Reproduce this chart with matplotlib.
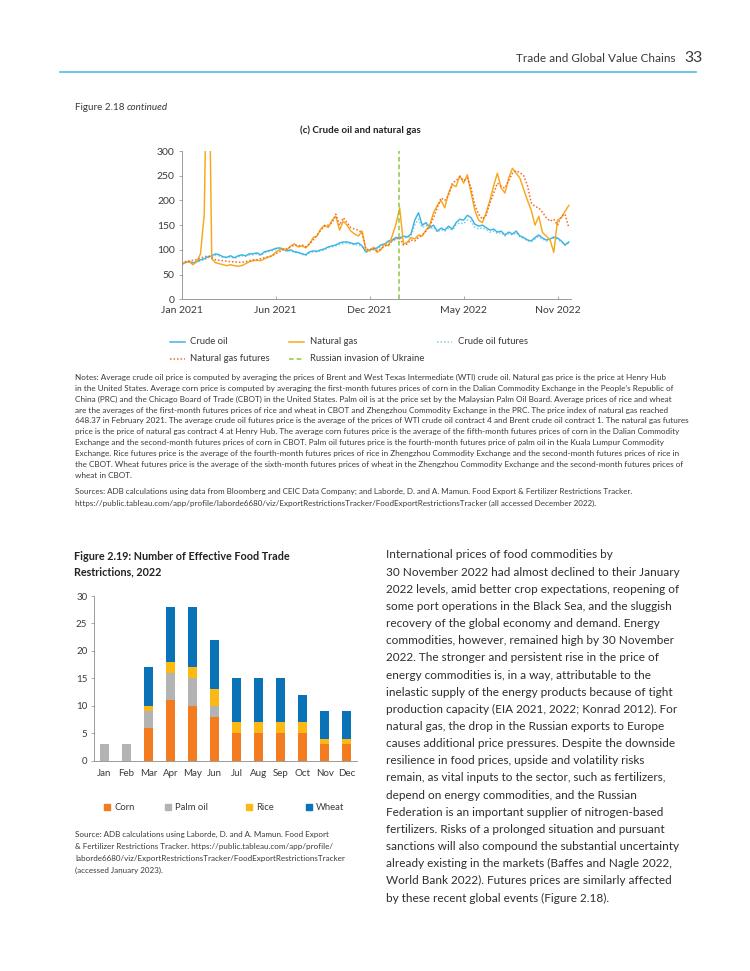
import matplotlib
matplotlib.use('Agg')
import matplotlib.pyplot as plt
from matplotlib.lines import Line2D
from matplotlib.patches import Rectangle

plt.rcParams['font.family'] = ['Lato', 'DejaVu Sans']

# ---------------- data ----------------
line_tick_labels = ['Jan 2021', 'Jun 2021', 'Dec 2021', 'May 2022', 'Nov 2022']
line_tick_pos = [0, 25, 50, 75, 100]
invasion_pos = 57.75

crude_oil = [70, 75, 76, 74, 76, 80, 82, 86, 88, 92,
             90, 86, 85, 88, 84, 88, 90, 88, 92, 92,
             94, 90, 96, 98, 100, 103, 104, 102, 98, 100,
             96, 95, 92, 90, 96, 98, 97, 100, 102, 106,
             108, 110, 114, 116, 116, 114, 112, 114, 108, 96,
             100, 102, 104, 110, 112, 118, 120, 125, 124, 128,
             126, 132, 160, 175, 150, 155, 145, 150, 138, 144,
             140, 148, 142, 155, 162, 160, 170, 165, 152, 148,
             150, 145, 140, 142, 136, 138, 130, 136, 132, 138,
             128, 125, 120, 118, 125, 130, 124, 120, 122, 126,
             124, 118, 110, 116]
crude_oil_futures = [70, 74, 75, 73, 75, 78, 80, 84, 86, 89,
                     88, 85, 84, 86, 83, 86, 88, 87, 90, 90,
                     92, 89, 94, 96, 98, 100, 101, 100, 97, 98,
                     95, 94, 91, 89, 94, 96, 96, 98, 100, 104,
                     106, 108, 111, 113, 114, 112, 110, 111, 106, 95,
                     98, 100, 102, 107, 110, 115, 118, 122, 122, 125,
                     124, 128, 150, 162, 145, 150, 142, 146, 136, 141,
                     138, 144, 140, 150, 155, 153, 160, 158, 146, 142,
                     145, 141, 136, 138, 133, 135, 128, 133, 130, 135,
                     126, 123, 118, 117, 122, 127, 122, 118, 120, 124,
                     122, 116, 109, 114]
natural_gas = [72, 75, 76, 70, 76, 92, 172, 648, 82, 74,
               72, 70, 68, 70, 68, 67, 68, 72, 76, 78,
               79, 78, 82, 85, 88, 95, 100, 102, 100, 108,
               112, 106, 108, 104, 112, 125, 128, 142, 150, 145,
               160, 168, 140, 158, 150, 138, 132, 128, 138, 100,
               98, 105, 95, 100, 112, 108, 128, 152, 185, 112,
               115, 125, 122, 130, 128, 140, 150, 175, 190, 200,
               185, 215, 232, 228, 250, 235, 252, 215, 180, 160,
               155, 175, 200, 230, 255, 225, 215, 245, 265, 255,
               245, 222, 200, 180, 150, 168, 135, 128, 120, 95,
               160, 165, 178, 190]
natural_gas_futures = [72, 76, 78, 79, 80, 83, 86, 88, 84, 80,
                       79, 78, 77, 76, 76, 75, 75, 76, 78, 80,
                       80, 82, 84, 86, 88, 92, 96, 100, 102, 106,
                       110, 108, 110, 106, 112, 120, 130, 140, 148, 150,
                       155, 172, 150, 165, 155, 145, 142, 140, 135, 102,
                       100, 104, 98, 102, 108, 110, 118, 122, 125, 110,
                       112, 120, 118, 125, 130, 138, 148, 165, 185, 205,
                       200, 210, 235, 240, 248, 240, 245, 225, 190, 172,
                       162, 170, 195, 215, 235, 228, 225, 240, 255, 260,
                       256, 250, 230, 195, 188, 185, 176, 165, 158, 162,
                       150, 168, 172, 145]
line_yticks = [0, 50, 100, 150, 200, 250, 300]

months = ['Jan', 'Feb', 'Mar', 'Apr', 'May', 'Jun', 'Jul', 'Aug', 'Sep', 'Oct', 'Nov', 'Dec']
corn = [0, 0, 6, 11, 10, 8, 5, 5, 5, 5, 3, 3]
palm_oil = [3, 3, 3, 5, 5, 2, 0, 0, 0, 0, 0, 0]
rice = [0, 0, 1, 2, 2, 3, 2, 2, 2, 2, 1, 1]
wheat = [0, 0, 7, 10, 11, 9, 8, 8, 8, 5, 5, 5]
bar_yticks = [0, 5, 10, 15, 20, 25, 30]

notes_lines = [
    "Notes: Average crude oil price is computed by averaging the prices of Brent and West Texas Intermediate (WTI) crude oil. Natural gas price is the price at Henry Hub",
    "in the United States. Average corn price is computed by averaging the first-month futures prices of corn in the Dalian Commodity Exchange in the People\u2019s Republic of",
    "China (PRC) and the Chicago Board of Trade (CBOT) in the United States. Palm oil is at the price set by the Malaysian Palm Oil Board. Average prices of rice and wheat",
    "are the averages of the first-month futures prices of rice and wheat in CBOT and Zhengzhou Commodity Exchange in the PRC. The price index of natural gas reached",
    "648.37 in February 2021. The average crude oil futures price is the average of the prices of WTI crude oil contract 4 and Brent crude oil contract 1. The natural gas futures",
    "price is the price of natural gas contract 4 at Henry Hub. The average corn futures price is the average of the fifth-month futures prices of corn in the Dalian Commodity",
    "Exchange and the second-month futures prices of corn in CBOT. Palm oil futures price is the fourth-month futures price of palm oil in the Kuala Lumpur Commodity",
    "Exchange. Rice futures price is the average of the fourth-month futures prices of rice in Zhengzhou Commodity Exchange and the second-month futures prices of rice in",
    "the CBOT. Wheat futures price is the average of the sixth-month futures prices of wheat in the Zhengzhou Commodity Exchange and the second-month futures prices of",
    "wheat in CBOT.",
]
sources_lines = [
    "Sources: ADB calculations using data from Bloomberg and CEIC Data Company; and Laborde, D. and A. Mamun. Food Export & Fertilizer Restrictions Tracker.",
    "https://public.tableau.com/app/profile/laborde6680/viz/ExportRestrictionsTracker/FoodExportRestrictionsTracker (all accessed December 2022).",
]
bar_source_lines = [
    "Source: ADB calculations using Laborde, D. and A. Mamun. Food Export",
    "& Fertilizer Restrictions Tracker. https://public.tableau.com/app/profile/",
    "laborde6680/viz/ExportRestrictionsTracker/FoodExportRestrictionsTracker",
    "(accessed January 2023).",
]
body_lines = [
    "International prices of food commodities by",
    "30 November 2022 had almost declined to their January",
    "2022 levels, amid better crop expectations, reopening of",
    "some port operations in the Black Sea, and the sluggish",
    "recovery of the global economy and demand. Energy",
    "commodities, however, remained high by 30 November",
    "2022. The stronger and persistent rise in the price of",
    "energy commodities is, in a way, attributable to the",
    "inelastic supply of the energy products because of tight",
    "production capacity (EIA 2021, 2022; Konrad 2012). For",
    "natural gas, the drop in the Russian exports to Europe",
    "causes additional price pressures. Despite the downside",
    "resilience in food prices, upside and volatility risks",
    "remain, as vital inputs to the sector, such as fertilizers,",
    "depend on energy commodities, and the Russian",
    "Federation is an important supplier of nitrogen-based",
    "fertilizers. Risks of a prolonged situation and pursuant",
    "sanctions will also compound the substantial uncertainty",
    "already existing in the markets (Baffes and Nagle 2022,",
    "World Bank 2022). Futures prices are similarly affected",
    "by these recent global events (Figure 2.18).",
]

# ---------------- figure ----------------
W, H = 750, 971
fig = plt.figure(figsize=(7.5, 9.71), dpi=100)
renderer = fig.canvas.get_renderer()

def fx(px):
    return px / W

def fy(py):
    return 1 - py / H

TEXT = '#3a3a3a'
AXC = '#9a9a9a'

def fit_size(lines, target_px, weight='normal', style='normal'):
    t = fig.text(0, 0, '', fontsize=10, weight=weight, style=style)
    wmax = 0
    for ln in lines:
        t.set_text(ln)
        wmax = max(wmax, t.get_window_extent(renderer).width)
    t.remove()
    return 10 * target_px / wmax

def block(lines, x, y0, dy, size, color=TEXT, weight='normal'):
    for k, ln in enumerate(lines):
        fig.text(fx(x), fy(y0 + k * dy), ln, fontsize=size, color=color,
                 weight=weight, ha='left', va='center')

# header
hs = fit_size(['Trade and Global Value Chains'], 158)
fig.text(fx(676), fy(58), 'Trade and Global Value Chains', fontsize=hs, color=TEXT,
         ha='right', va='center')
fig.text(fx(684), fy(58), '33', fontsize=hs * 1.35, color=TEXT, ha='left', va='center')
fig.add_artist(Line2D([fx(60), fx(696)], [fy(72), fy(72)], color='#5cc3e6', lw=1.3))

# Figure 2.18 continued
t1 = fig.text(fx(75), fy(107), 'Figure 2.18 ', fontsize=7.1, color=TEXT, ha='left', va='center')
w1 = t1.get_window_extent(renderer).width
fig.text(fx(75 + w1), fy(107), 'continued', fontsize=7.1, color=TEXT, style='italic',
         ha='left', va='center')
fig.text(fx(360), fy(130), '(c) Crude oil and natural gas', fontsize=7, color='#222222',
         weight='bold', ha='center', va='center')

# ---------------- line chart ----------------
x_idx = list(range(len(crude_oil)))
ax1 = fig.add_axes([fx(181.7), fy(299.3), 389 / W, 148.3 / H])
ax1.plot(x_idx, crude_oil, color='#3db4e5', lw=1.05, zorder=3)
ax1.plot(x_idx, crude_oil_futures, color='#7fcfe6', lw=1.1, ls=(0, (1, 1.3)), zorder=2)
ax1.plot(x_idx, natural_gas, color='#f8a81c', lw=1.05, zorder=3)
ax1.plot(x_idx, natural_gas_futures, color='#f26a25', lw=1.1, ls=(0, (1, 1.3)), zorder=4)
ax1.axvline(invasion_pos, color='#8cc63f', lw=1.1, ls=(0, (3, 2)), zorder=5)
ax1.set_xlim(0, 103.5)
ax1.set_ylim(0, 300)
ax1.set_xticks(line_tick_pos)
ax1.set_xticklabels(line_tick_labels)
ax1.set_yticks(line_yticks)
for s in ['top', 'right']:
    ax1.spines[s].set_visible(False)
for s in ['left', 'bottom']:
    ax1.spines[s].set_color(AXC)
    ax1.spines[s].set_linewidth(0.7)
ax1.tick_params(axis='y', direction='out', length=2.5, width=0.6, color=AXC,
                labelsize=7.5, labelcolor=TEXT, pad=2.5)
ax1.tick_params(axis='x', direction='in', length=2.5, width=0.6, color=AXC,
                labelsize=7.5, labelcolor=TEXT, pad=5)

# line legend
def leg_line(x0, x1, y, color, ls, lw=1.1):
    fig.add_artist(Line2D([fx(x0), fx(x1)], [fy(y), fy(y)], color=color, ls=ls, lw=lw))

leg_items = [
    (170, 341.5, 'Crude oil', '#3db4e5', '-'),
    (289, 341.5, 'Natural gas', '#f8a81c', '-'),
    (437, 341.5, 'Crude oil futures', '#7fcfe6', (0, (1, 1.3))),
    (170, 358.5, 'Natural gas futures', '#f26a25', (0, (1, 1.3))),
    (289, 358.5, 'Russian invasion of Ukraine', '#8cc63f', (0, (3, 2))),
]
for x0, y, lab, col, ls in leg_items:
    leg_line(x0, x0 + 15, y, col, ls)
    fig.text(fx(x0 + 20.5), fy(y), lab, fontsize=6.8, color=TEXT, ha='left', va='center')

# notes & sources
ns = fit_size(notes_lines, 613)
block(notes_lines, 75, 377.5, 10.85, ns)
ss = fit_size(sources_lines, 556)
block(sources_lines, 75, 491, 12, ss)

# ---------------- bar chart ----------------
ts = fit_size(['Figure 2.19: Number of Effective Food Trade'], 215, weight='bold')
block(['Figure 2.19: Number of Effective Food Trade', 'Restrictions, 2022'],
      74.5, 556.5, 15.3, ts, color='#222222', weight='bold')

ax2 = fig.add_axes([fx(94.3), fy(760.7), 262.4 / W, 164.7 / H])
xb = list(range(len(months)))
bw = 0.4
b0 = [0] * 12
b1 = [corn[i] for i in xb]
b2 = [corn[i] + palm_oil[i] for i in xb]
b3 = [corn[i] + palm_oil[i] + rice[i] for i in xb]
ax2.bar(xb, corn, bw, bottom=b0, color='#f47c20', label='Corn')
ax2.bar(xb, palm_oil, bw, bottom=b1, color='#b3b3b3', label='Palm oil')
ax2.bar(xb, rice, bw, bottom=b2, color='#fdb913', label='Rice')
ax2.bar(xb, wheat, bw, bottom=b3, color='#0a73b7', label='Wheat')
ax2.set_xlim(-0.454, 11.45)
ax2.set_ylim(0, 30)
ax2.set_xticks(xb)
ax2.set_xticklabels(months)
ax2.set_yticks(bar_yticks)
for s in ['top', 'right']:
    ax2.spines[s].set_visible(False)
for s in ['left', 'bottom']:
    ax2.spines[s].set_color(AXC)
    ax2.spines[s].set_linewidth(0.7)
ax2.tick_params(axis='y', direction='out', length=2, width=0.6, color=AXC,
                labelsize=7, labelcolor=TEXT, pad=3)
ax2.tick_params(axis='x', length=0, labelsize=7, labelcolor=TEXT, pad=6)

bar_leg = [(104.3, 'Corn', '#f47c20'), (165, 'Palm oil', '#b3b3b3'),
           (245.7, 'Rice', '#fdb913'), (306, 'Wheat', '#0a73b7')]
for x0, lab, col in bar_leg:
    fig.add_artist(Rectangle((fx(x0), fy(810.3)), 6 / W, 6 / H, color=col,
                             transform=fig.transFigure))
    fig.text(fx(x0 + 10), fy(807.3), lab, fontsize=6.8, color=TEXT, ha='left', va='center')

bs = fit_size(bar_source_lines, 266)
block(bar_source_lines, 75, 834, 12, bs)

# ---------------- body text ----------------
body_size = fit_size(body_lines, 291)
block(body_lines, 386, 555, 17.15, body_size, color='#2e2e2e')

fig.savefig('out.png', dpi=100)
